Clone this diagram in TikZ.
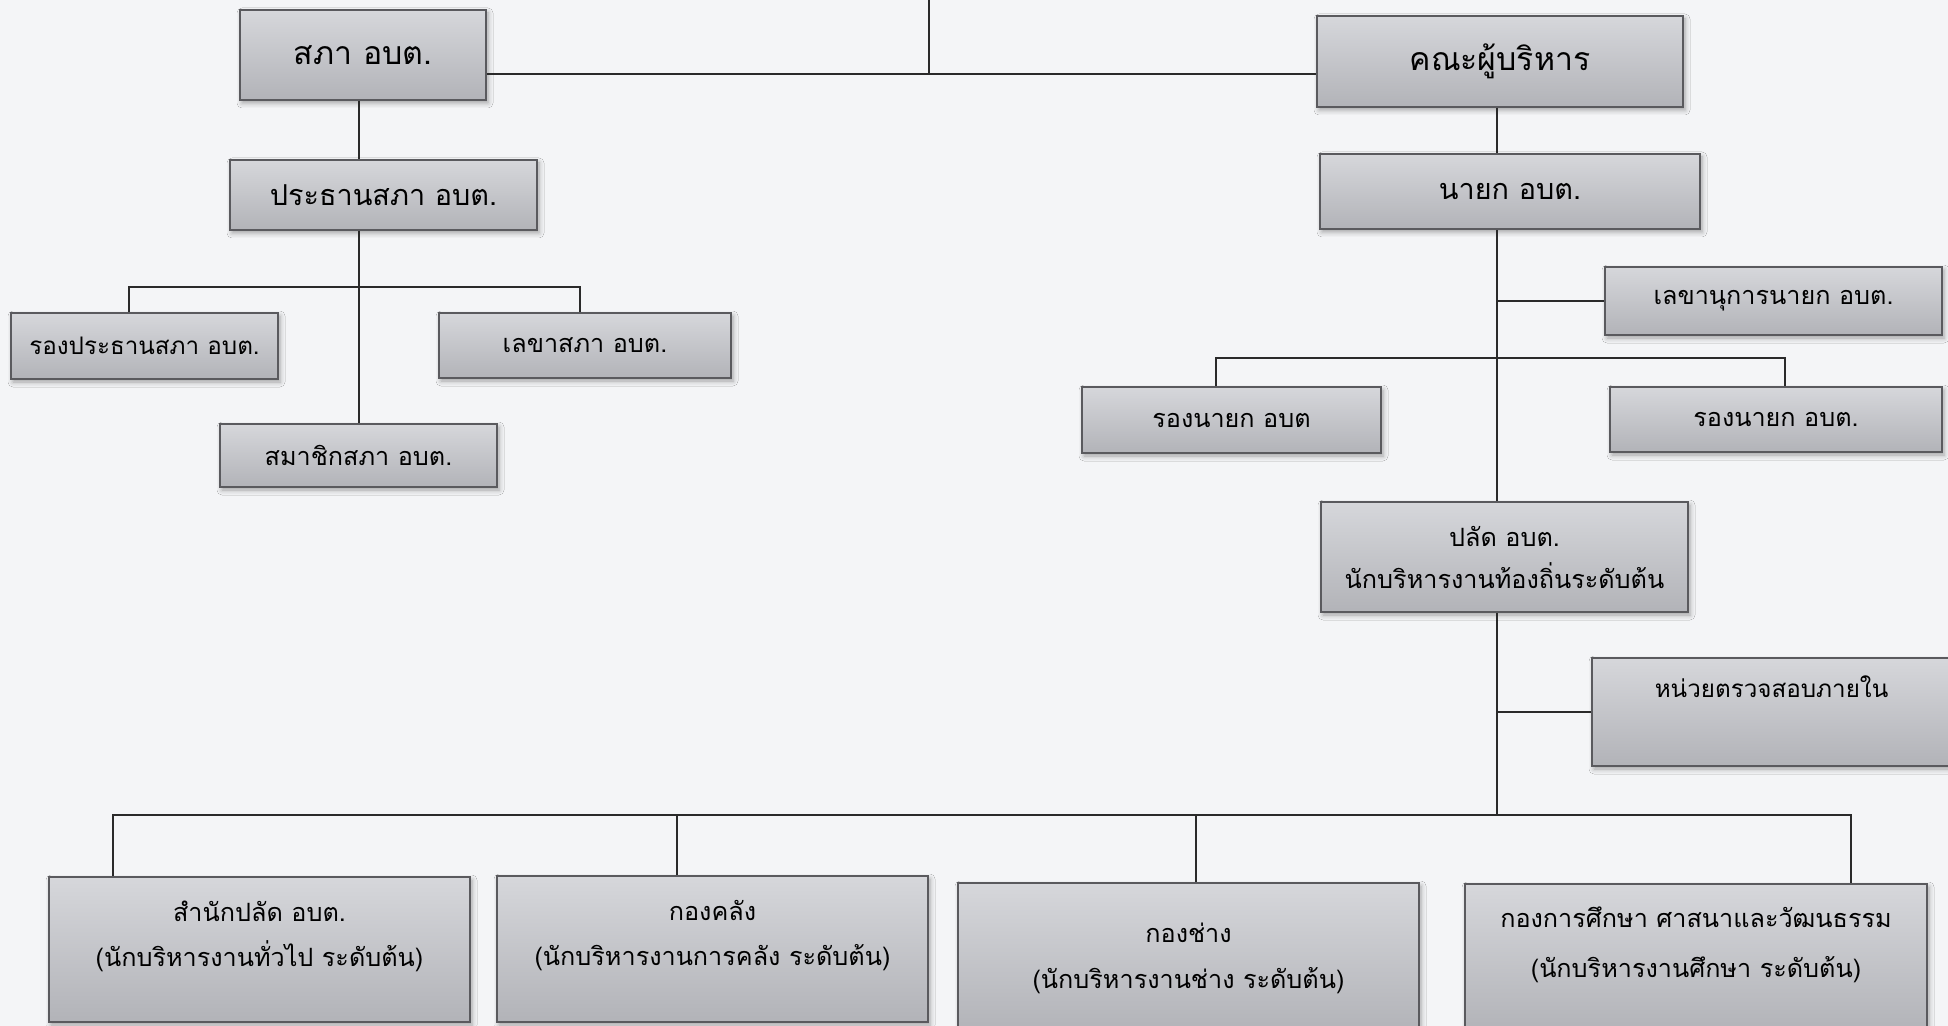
\documentclass[tikz,border=0pt]{standalone}
\usepackage{fontspec}
\newfontfamily\thaifont[Script=Thai]{Loma}
\usepackage{tikz}
\usetikzlibrary{calc,shadows.blur}
\usepackage{xcolor}
\definecolor{bgcol}{HTML}{F4F5F7}
\definecolor{boxtop}{HTML}{D6D7DB}
\definecolor{boxbot}{HTML}{B2B3B8}
\definecolor{boxedge}{HTML}{5A5A5E}
\definecolor{linecol}{HTML}{2A2A2A}
\newcommand{\twoline}[2]{\begin{tabular}[t]{@{}c@{}}#1\\#2\end{tabular}}

\begin{document}
\begin{tikzpicture}[x=0.5pt,y=-0.5pt,
  box/.style={draw=boxedge,line width=0.8pt,top color=boxtop,bottom color=boxbot,
    blur shadow={shadow xshift=1pt,shadow yshift=-1.5pt,shadow blur radius=2.5pt,shadow opacity=35},
    align=center,inner sep=0pt},
  sz/.style 2 args={minimum width=#1*0.5pt,minimum height=#2*0.5pt},
  dept/.style 2 args={text height=#1*0.5pt,text depth=#2*0.5pt},
  big/.style={font=\thaifont\fontsize{16}{21}\selectfont},
  mid/.style={font=\thaifont\fontsize{14.4}{21}\selectfont},
  txt/.style={font=\thaifont\fontsize{12.6}{21}\selectfont},
  small/.style={font=\thaifont\fontsize{12.1}{21}\selectfont},
  link/.style={draw=linecol,line width=1pt}
  ]
\useasboundingbox[fill=bgcol] (0,0) rectangle (1948,1026);
% council side
\node[box,big,sz={246}{90}] (sapha) at (363,55) {สภา อบต.};
\node[box,mid,sz={307}{70}] (prathan) at (383.5,195) {ประธานสภา อบต.};
\node[box,small,sz={267}{66}] (rongprathan) at (144.5,346) {รองประธานสภา อบต.};
\node[box,txt,sz={292}{65}] (lekhasapha) at (585,345.5) {เลขาสภา อบต.};
\node[box,txt,sz={277}{63}] (samachik) at (358.5,455.5) {สมาชิกสภา อบต.};
% executive side
\node[box,big,sz={366}{91}] (khana) at (1500,61.5) {คณะผู้บริหาร};
\node[box,mid,sz={380}{75}] (nayok) at (1510,191.5) {นายก อบต.};
\node[box,txt,sz={337}{68}] (lekhanukan) at (1773.5,301) {เลขานุการนายก อบต.};
\node[box,txt,sz={299}{66}] (rongnayok1) at (1231.5,420) {รองนายก อบต};
\node[box,txt,sz={332}{65}] (rongnayok2) at (1776,419.5) {รองนายก อบต.};
\node[box,txt,sz={367}{110}] (palat) at (1504.5,557) {ปลัด อบต.\\นักบริหารงานท้องถิ่นระดับต้น};
\node[box,small,minimum width=359*0.5pt,dept={39}{69}] (nuai) at (1771.5,712) {หน่วยตรวจสอบภายใน};
% divisions
\node[box,minimum width=421*0.5pt,dept={44}{101},font=\thaifont\fontsize{12.6}{22.5}\selectfont] (samnak) at (259.5,949.5)
  {\twoline{สำนักปลัด อบต.}{(นักบริหารงานทั่วไป ระดับต้น)}};
\node[box,minimum width=431*0.5pt,dept={44}{102},font=\thaifont\fontsize{12.6}{22.5}\selectfont] (klang) at (712.5,949)
  {\twoline{กองคลัง}{(นักบริหารงานการคลัง ระดับต้น)}};
\node[box,minimum width=461*0.5pt,dept={59}{90},font=\thaifont\fontsize{12.6}{23}\selectfont] (chang) at (1188.5,957.5)
  {\twoline{กองช่าง}{(นักบริหารงานช่าง ระดับต้น)}};
\node[box,minimum width=462*0.5pt,dept={43}{105},font=\thaifont\fontsize{12.6}{25}\selectfont] (suksa) at (1696,958)
  {\twoline{กองการศึกษา ศาสนาและวัฒนธรรม}{(นักบริหารงานศึกษา ระดับต้น)}};

% connectors
\coordinate (topend) at (929,0);
\coordinate (tj) at (929,74);
\coordinate (lj) at (359,287);
\coordinate (rj) at (1497,358);
\coordinate (bj) at (1497,815);
\draw[link] (topend) -- (tj);
\draw[link] (sapha.east |- tj) -- (khana.west |- tj);
\draw[link] (samachik.north |- sapha.south) -- (samachik.north |- prathan.north);
\draw[link] (samachik.north |- prathan.south) -- (samachik.north);
\draw[link] ([xshift=-7.75pt]rongprathan.north) |- (lj) -| ([xshift=-2.5pt]lekhasapha.north);
\draw[link] (bj |- khana.south) -- (bj |- nayok.north);
\draw[link] (bj |- nayok.south) -- (bj |- palat.north);
\draw[link] (lekhanukan.west) -- (lekhanukan.west -| bj);
\draw[link] ([xshift=-7.75pt]rongnayok1.north) |- (rj) -| ([xshift=4.5pt]rongnayok2.north);
\draw[link] (bj |- palat.south) -- (bj);
\draw[link] (nuai.west) -- (nuai.west -| bj);
\draw[link] ([xshift=32.5pt]samnak.north west) |- (bj) -| ([xshift=-38.5pt]suksa.north east);
\draw[link] (bj) -| ([xshift=90.5pt]klang.north west);
\draw[link] (bj) -| ([xshift=3.75pt]chang.north);
\end{tikzpicture}
\end{document}
